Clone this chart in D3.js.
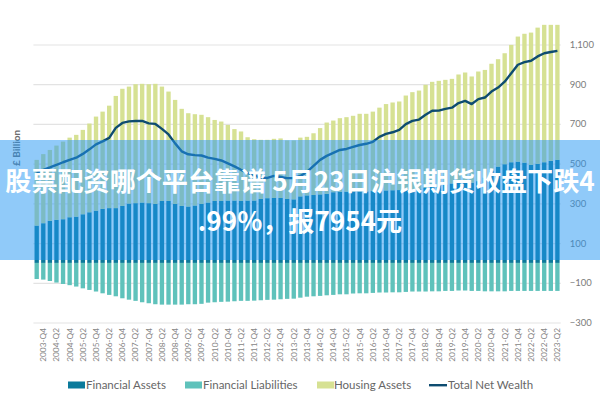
<!DOCTYPE html>
<html>
<head>
<meta charset="utf-8">
<script src="https://cdnjs.cloudflare.com/ajax/libs/d3/7.8.5/d3.min.js"></script>
<style>
  html, body { margin: 0; background: #fff; }
  text { font-family: Lato, "Noto Sans", sans-serif; }
  .banner-text { font-family: "Noto Sans CJK SC", sans-serif; font-weight: 700; font-size: 26.1px; fill: #fff; }
</style>
</head>
<body>
<div id="chart"></div>
<script>
const quarters = [];
for (let year = 2003; year <= 2023; year++) {
  ["Q1", "Q2", "Q3", "Q4"].forEach(q => quarters.push(`${year}-${q}`));
}
const categories = quarters.slice(2, 82);

const financialAssets = [188, 200, 212, 217, 220, 230, 233, 245, 255, 263, 272, 276, 276, 287, 299, 301, 304, 301, 297, 312,
  312, 297, 287, 284, 289, 297, 304, 312, 312, 314, 314, 312, 314, 314, 322, 326, 327, 327, 322, 320,
  335, 340, 342, 345, 348, 356, 358, 359, 359, 360, 360, 362, 363, 365, 366, 367, 368, 370, 372, 378,
  385, 390, 395, 400, 405, 408, 404, 412, 430, 465, 485, 497, 507, 510, 505, 494, 499, 507, 514, 519];

const housingAssets = [331, 348, 357, 374, 391, 401, 412, 425, 447, 474, 490, 516, 565, 590, 589, 599, 598, 599, 605, 576,
  551, 524, 489, 470, 460, 449, 430, 408, 400, 381, 360, 350, 319, 309, 298, 294, 298, 300, 295, 297,
  296, 295, 311, 334, 359, 361, 371, 375, 382, 391, 391, 400, 419, 435, 442, 446, 475, 490, 496, 519,
  527, 527, 527, 527, 544, 551, 535, 552, 542, 538, 541, 559, 591, 630, 649, 666, 686, 692, 685, 680];

const financialLiabilities = [-81, -84, -91, -99, -106, -112, -119, -128, -136, -144, -153, -161, -168, -178, -185, -191, -198, -203, -208, -210,
  -210, -210, -210, -208, -208, -206, -200, -198, -196, -195, -193, -191, -191, -190, -188, -186, -185, -183, -181, -180,
  -175, -170, -168, -166, -163, -161, -158, -158, -154, -153, -153, -151, -149, -149, -148, -148, -146, -144, -144, -144,
  -143, -143, -141, -141, -139, -139, -141, -141, -143, -143, -143, -143, -141, -141, -141, -141, -141, -141, -141, -141];

const totalNetWealth = [453, 469, 481, 494, 507, 519, 530, 549, 572, 597, 612, 630, 680, 705, 713, 715, 715, 703, 700, 675,
  647, 602, 562, 547, 543, 541, 530, 524, 516, 501, 486, 469, 453, 441, 428, 428, 438, 433, 427, 428,
  438, 458, 489, 519, 539, 554, 569, 574, 584, 594, 600, 610, 635, 650, 658, 670, 699, 715, 722, 746,
  766, 767, 776, 782, 805, 816, 800, 825, 833, 863, 883, 913, 955, 998, 1011, 1018, 1040, 1056, 1062, 1068];

const yTicks = [-300, -100, 100, 300, 500, 700, 900, 1100];
const bannerLines = ["股票配资哪个平台靠谱 5月23日沪银期货收盘下跌4", ".99%，报7954元"];

const COLORS = { assets: "#0b7a9b", liabilities: "#5fc2bb", housing: "#d6e193", net: "#0e4c70" };
const legendItems = [
  { label: "Financial Assets", color: COLORS.assets, x: 68, textX: 86 },
  { label: "Financial Liabilities", color: COLORS.liabilities, x: 185, textX: 203 },
  { label: "Housing Assets", color: COLORS.housing, x: 317, textX: 334 },
  { label: "Total Net Wealth", color: COLORS.net, x: 429, textX: 448, isLine: true }
];

const svg = d3.select("#chart").append("svg")
  .attr("width", 600)
  .attr("height", 400)
  .style("display", "block");

const x = d3.scaleBand()
  .domain(categories)
  .range([33.4, 560.7])
  .paddingInner(0.34)
  .paddingOuter(0.17);

const y = d3.scaleLinear()
  .domain([-300, 1100])
  .range([322.5, 44.5]);

// gridlines and right hand labels
const yAxis = d3.axisRight(y).tickValues(yTicks).tickFormat(d3.format(",")).tickSize(527.3).tickPadding(9);
const yGroup = svg.append("g").attr("transform", "translate(33.4, 0)").call(yAxis);
yGroup.select(".domain").remove();
yGroup.selectAll("line").attr("stroke", "#e3e3e3").attr("stroke-width", 1.2);
yGroup.selectAll("text").attr("fill", "#7b7b7b").attr("font-size", 9.5);

const rows = categories.map((c, i) => ({
  category: c,
  assets: financialAssets[i],
  housing: housingAssets[i],
  liabilities: financialLiabilities[i]
}));

const series = d3.stack()
  .keys(["assets", "housing", "liabilities"])
  .offset(d3.stackOffsetDiverging)(rows);

svg.append("g").selectAll("g")
  .data(series)
  .join("g")
    .attr("fill", d => COLORS[d.key])
  .selectAll("rect")
  .data(d => d)
  .join("rect")
    .attr("x", d => x(d.data.category))
    .attr("width", x.bandwidth())
    .attr("y", d => y(Math.max(d[0], d[1])))
    .attr("height", d => Math.abs(y(d[0]) - y(d[1])));

const line = d3.line()
  .x((d, i) => x(categories[i]) + x.bandwidth() / 2)
  .y(d => y(d));

svg.append("path")
  .datum(totalNetWealth)
  .attr("d", line)
  .attr("fill", "none")
  .attr("stroke", COLORS.net)
  .attr("stroke-width", 2.4)
  .attr("stroke-linejoin", "round");

// every other quarter is labelled, starting at 2003-Q4
const xAxis = d3.axisBottom(x)
  .tickValues(categories.filter((c, i) => i % 2 === 1))
  .tickSize(0);
const xGroup = svg.append("g").attr("transform", "translate(0, 322.5)").call(xAxis);
xGroup.select(".domain").remove();
xGroup.selectAll("text")
  .attr("transform", "rotate(-90)")
  .attr("text-anchor", "end")
  .attr("x", -5.5)
  .attr("y", 0)
  .attr("dy", "0.35em")
  .attr("fill", "#858585")
  .attr("font-size", 8.3);

svg.append("text")
  .attr("transform", "translate(20, 148) rotate(-90)")
  .attr("text-anchor", "middle")
  .attr("fill", "#6e6e6e")
  .attr("font-size", 10)
  .attr("font-weight", 700)
  .text("£ Billion");

const legend = svg.append("g").selectAll("g")
  .data(legendItems)
  .join("g");

legend.append("rect")
  .attr("x", d => d.x)
  .attr("y", d => d.isLine ? 384 : 381.5)
  .attr("width", d => d.isLine ? 18 : 17)
  .attr("height", d => d.isLine ? 2.4 : 7)
  .attr("fill", d => d.color);

legend.append("text")
  .attr("x", d => d.textX)
  .attr("y", 385)
  .attr("dy", "0.35em")
  .attr("fill", "#666")
  .attr("font-size", 11.5)
  .text(d => d.label);

// translucent title banner on top of the chart
svg.append("rect")
  .attr("x", 0)
  .attr("y", 140)
  .attr("width", 600)
  .attr("height", 120)
  .attr("fill", "#2196f3")
  .attr("fill-opacity", 0.5);

svg.selectAll(".banner-text")
  .data(bannerLines)
  .join("text")
    .attr("class", "banner-text")
    .attr("x", 300)
    .attr("y", (d, i) => 190.5 + i * 40)
    .attr("text-anchor", "middle")
    .text(d => d);
</script>
</body>
</html>
